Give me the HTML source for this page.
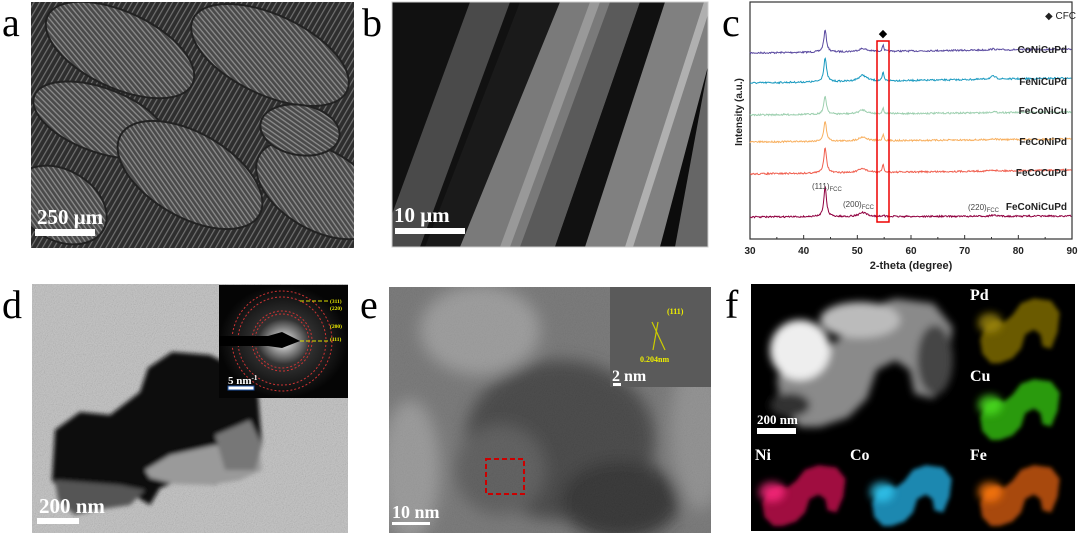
<!DOCTYPE html>
<html><head><meta charset="utf-8"><style>
html,body{margin:0;padding:0;background:#fff;width:1080px;height:536px;overflow:hidden}
svg{display:block}
.lab{font-family:"Liberation Serif",serif;font-size:40px;fill:#000}
.sb{font-family:"Liberation Serif",serif;font-weight:bold;fill:#fff}
.ax{font-family:"Liberation Sans",sans-serif;font-weight:bold;font-size:10px;fill:#222}
</style></head><body>
<svg id="s" width="1080" height="536" viewBox="0 0 1080 536" xmlns="http://www.w3.org/2000/svg">
<defs>
<filter id="grain" x="0" y="0" width="100%" height="100%"><feTurbulence type="fractalNoise" baseFrequency="0.9" numOctaves="2" result="n"/><feColorMatrix type="saturate" values="0"/><feComposite in2="SourceGraphic" operator="in"/><feBlend in="SourceGraphic" mode="multiply"/></filter>
<filter id="blur2"><feGaussianBlur stdDeviation="2"/></filter>
<filter id="blur4"><feGaussianBlur stdDeviation="4"/></filter>
<filter id="blur8"><feGaussianBlur stdDeviation="8"/></filter>
<pattern id="fib" width="4" height="4" patternUnits="userSpaceOnUse" patternTransform="rotate(25)"><rect width="4" height="4" fill="#4a4a4a"/><rect width="4" height="1.3" fill="#8c8c8c"/></pattern>
<pattern id="fib2" width="5" height="5" patternUnits="userSpaceOnUse" patternTransform="rotate(-60)"><rect width="5" height="5" fill="#2e2e2e"/><rect width="5" height="1.2" fill="#707070"/></pattern>
<path id="blob" d="M10 120 L5 90 L20 60 L45 50 L60 55 L80 40 L100 15 L130 5 L170 10 L190 35 L185 75 L170 110 L150 105 L145 80 L130 70 L110 80 L100 110 L80 130 L50 140 L30 140 Z"/>
<radialGradient id="sadp"><stop offset="0" stop-color="#fff"/><stop offset="0.15" stop-color="#aaa"/><stop offset="0.4" stop-color="#333"/><stop offset="1" stop-color="#050505"/></radialGradient>
<clipPath id="ca"><rect x="31" y="2" width="323" height="246"/></clipPath>
<clipPath id="cb"><rect x="392" y="2" width="316" height="245"/></clipPath>
<clipPath id="ce"><rect x="389" y="287" width="322" height="246"/></clipPath>
</defs>

<text class="lab" x="2" y="36">a</text>
<text class="lab" x="362" y="36">b</text>
<text class="lab" x="722" y="36">c</text>
<text class="lab" x="2" y="318">d</text>
<text class="lab" x="360" y="318">e</text>
<text class="lab" x="725" y="318">f</text>

<!-- a -->
<g clip-path="url(#ca)">
<rect x="31" y="2" width="323" height="246" fill="url(#fib2)"/>
<g fill="url(#fib)" stroke="#222" stroke-width="2">
<ellipse cx="120" cy="50" rx="80" ry="38" transform="rotate(25 120 50)"/>
<ellipse cx="270" cy="55" rx="85" ry="40" transform="rotate(25 270 55)"/>
<ellipse cx="100" cy="120" rx="70" ry="32" transform="rotate(20 100 120)"/>
<ellipse cx="190" cy="175" rx="80" ry="42" transform="rotate(30 190 175)"/>
<ellipse cx="320" cy="190" rx="70" ry="40" transform="rotate(30 320 190)"/>
<ellipse cx="60" cy="205" rx="50" ry="35" transform="rotate(30 60 205)"/>
<ellipse cx="300" cy="130" rx="40" ry="25" transform="rotate(10 300 130)"/>
</g>
<rect x="35" y="229" width="60" height="7" fill="#fff"/>
<text class="sb" x="37" y="224" font-size="21">250 μm</text>
</g>

<!-- b -->
<g clip-path="url(#cb)">
<rect x="392" y="2" width="316" height="245" fill="#111"/>
<polygon points="380,247 420,247 510,2 470,2" fill="#4a4a4a"/>
<polygon points="425,247 470,247 560,2 520,2" fill="#1a1a1a"/>
<polygon points="460,247 530,247 620,2 560,2" fill="#7a7a7a"/>
<polygon points="520,247 555,247 640,2 610,2" fill="#5a5a5a"/>
<polygon points="555,247 600,247 675,2 640,2" fill="#111"/>
<polygon points="585,247 660,247 740,2 665,2" fill="#808080"/>
<polygon points="660,247 680,247 745,2 725,2" fill="#0c0c0c"/>
<polygon points="675,247 720,247 760,2 720,2" fill="#666"/>
<polygon points="500,247 510,247 600,2 590,2" fill="#999"/>
<polygon points="625,247 633,247 712,2 704,2" fill="#b0b0b0"/>
<rect x="395" y="228" width="70" height="6" fill="#fff"/>
<text class="sb" x="394" y="222" font-size="21">10 μm</text>
</g>
<rect x="392" y="2" width="316" height="245" fill="none" stroke="#ccc" stroke-width="1"/>

<!-- c -->
<g id="chart">
<rect x="750" y="2" width="322" height="237" fill="#fff" stroke="#333" stroke-width="1.2"/>
<g id="traces"></g>
<rect x="877" y="41" width="12" height="181" fill="none" stroke="#e00" stroke-width="1.5"/>
<text x="883" y="37" font-size="11" text-anchor="middle" fill="#000">◆</text>
<text x="1045" y="19" font-size="10" font-family="Liberation Sans,sans-serif" fill="#222">◆ CFC</text>
<g class="ax" text-anchor="end">
<text x="1067" y="53">CoNiCuPd</text>
<text x="1067" y="85">FeNiCuPd</text>
<text x="1067" y="114">FeCoNiCu</text>
<text x="1067" y="145">FeCoNiPd</text>
<text x="1067" y="176">FeCoCuPd</text>
<text x="1067" y="210">FeCoNiCuPd</text>
</g>
<g font-family="Liberation Sans,sans-serif" font-size="8" fill="#444">
<text x="812" y="189">(111)<tspan font-size="6" dy="2">FCC</tspan></text>
<text x="843" y="207">(200)<tspan font-size="6" dy="2">FCC</tspan></text>
<text x="968" y="210">(220)<tspan font-size="6" dy="2">FCC</tspan></text>
</g>
<g id="ticks" stroke="#333" stroke-width="1"></g>
<g class="ax" text-anchor="middle" font-size="11">
<text x="750" y="254">30</text><text x="803.7" y="254">40</text><text x="857.3" y="254">50</text><text x="911" y="254">60</text><text x="964.7" y="254">70</text><text x="1018.3" y="254">80</text><text x="1072" y="254">90</text>
<text x="911" y="269" font-size="11">2-theta (degree)</text>
</g>
<text class="ax" font-size="15" text-anchor="middle" transform="translate(742 112) rotate(-90)">Intensity (a.u.)</text>
</g>

<!-- d -->
<rect x="32" y="284" width="316" height="249" fill="#c9c9c9"/>
<rect x="32" y="284" width="316" height="249" fill="#c9c9c9" filter="url(#grain)" opacity="0.5"/>
<g filter="url(#blur2)">
<path d="M55 430 L80 412 L110 415 L140 392 L148 368 L172 352 L210 355 L240 370 L258 395 L262 445 L245 465 L215 485 L180 480 L160 488 L150 505 L125 490 L90 500 L70 505 L52 480 Z" fill="#111"/>
<path d="M145 470 L170 455 L215 445 L240 448 L258 440 L262 470 L240 480 L210 485 L175 484 L150 478 Z" fill="#9a9a9a"/>
<path d="M55 480 L120 485 L145 490 L130 505 L95 510 L75 515 L58 500 Z" fill="#555"/>
<path d="M215 435 L250 420 L262 445 L255 470 L225 470 Z" fill="#777"/>
</g>
<rect x="219" y="285" width="129" height="113" fill="url(#sadp)"/>
<g fill="none" stroke="#c33" stroke-dasharray="2 2" stroke-width="1">
<circle cx="282" cy="341" r="27"/><circle cx="282" cy="341" r="30"/><circle cx="282" cy="341" r="44"/><circle cx="282" cy="341" r="50"/>
</g>
<polygon points="219,336 268,336 282,332 300,341 282,348 268,346 219,346" fill="#000"/>
<g stroke="#dd0" stroke-width="1" stroke-dasharray="4 2"><line x1="300" y1="301" x2="328" y2="301"/><line x1="300" y1="341" x2="328" y2="341"/></g>
<g font-family="Liberation Serif,serif" font-size="5.5" font-weight="bold" fill="#ee0">
<text x="330" y="303">(311)</text><text x="330" y="310">(220)</text><text x="330" y="328">(200)</text><text x="330" y="341">(111)</text></g>
<text class="sb" x="228" y="384" font-size="11">5 nm<tspan font-size="7" dy="-4">-1</tspan></text>
<rect x="228" y="386" width="26" height="4" fill="#fff" stroke="#1a4fa0" stroke-width="1"/>
<text class="sb" x="39" y="513" font-size="21">200 nm</text>
<rect x="37" y="518" width="42" height="6" fill="#fff"/>

<!-- e -->
<g clip-path="url(#ce)">
<rect x="389" y="287" width="322" height="246" fill="#7a7a7a"/>
<g filter="url(#blur8)">
<ellipse cx="480" cy="330" rx="60" ry="45" fill="#a8a8a8"/>
<ellipse cx="410" cy="470" rx="30" ry="70" fill="#a5a5a5"/>
<ellipse cx="700" cy="430" rx="30" ry="80" fill="#9a9a9a"/>
<ellipse cx="560" cy="440" rx="95" ry="80" fill="#3c3c3c"/>
<ellipse cx="620" cy="500" rx="60" ry="40" fill="#262626"/>
<ellipse cx="500" cy="470" rx="45" ry="45" fill="#5a5a5a"/>
</g>
<rect x="389" y="287" width="322" height="246" fill="#888" filter="url(#grain)" opacity="0.25"/>
<rect x="610" y="287" width="101" height="100" fill="#5a5a5a"/>
<g stroke="#cc0" stroke-width="1.2"><line x1="652" y1="322" x2="665" y2="350"/><line x1="658" y1="322" x2="653" y2="350"/></g>
<text x="667" y="314" font-family="Liberation Serif,serif" font-size="8" font-weight="bold" fill="#ee0">(111)</text>
<text x="640" y="362" font-family="Liberation Serif,serif" font-size="8" font-weight="bold" fill="#ee0">0.204nm</text>
<text class="sb" x="612" y="381" font-size="16">2 nm</text>
<rect x="613" y="383" width="8" height="3" fill="#fff"/>
<rect x="486" y="459" width="38" height="35" fill="none" stroke="#c00" stroke-width="2" stroke-dasharray="5 3"/>
<text class="sb" x="392" y="518" font-size="18">10 nm</text>
<rect x="392" y="522" width="38" height="3" fill="#fff"/>
</g>

<!-- f -->
<rect x="751" y="284" width="324" height="247" fill="#000"/>
<g filter="url(#blur4)">
<use href="#blob" fill="#8a8a8a" transform="translate(772 294) scale(0.95)"/>
<ellipse cx="800" cy="350" rx="30" ry="30" fill="#eee"/>
<ellipse cx="790" cy="405" rx="20" ry="12" fill="#333"/>
<ellipse cx="860" cy="320" rx="40" ry="18" fill="#bbb"/>
<ellipse cx="935" cy="360" rx="18" ry="35" fill="#444"/>
</g>
<text class="sb" x="757" y="424" font-size="13">200 nm</text>
<rect x="757" y="428" width="39" height="6" fill="#fff"/>
<g font-family="Liberation Serif,serif" font-weight="bold" font-size="16" fill="#fff">
<text x="970" y="300">Pd</text><text x="970" y="381">Cu</text>
<text x="755" y="460">Ni</text><text x="850" y="460">Co</text><text x="970" y="460">Fe</text></g>
<g filter="url(#blur2)">
<use href="#blob" fill="#6a5a00" transform="translate(978 296) scale(0.43 0.48)"/>
<use href="#blob" fill="#2a9a10" transform="translate(978 377) scale(0.43 0.45)"/>
<use href="#blob" fill="#a01040" transform="translate(760 463) scale(0.45 0.45)"/>
<use href="#blob" fill="#1a88b0" transform="translate(870 463) scale(0.43 0.45)"/>
<use href="#blob" fill="#a84a10" transform="translate(978 463) scale(0.43 0.45)"/>
</g>
<g filter="url(#blur4)" opacity="0.8">
<ellipse cx="990" cy="323" rx="12" ry="10" fill="#a08a10"/>
<ellipse cx="990" cy="405" rx="12" ry="10" fill="#4ee020"/>
<ellipse cx="772" cy="492" rx="13" ry="10" fill="#ff2a80"/>
<ellipse cx="882" cy="492" rx="12" ry="10" fill="#30c8f0"/>
<ellipse cx="990" cy="492" rx="12" ry="10" fill="#ff7a10"/>
</g>
</svg>
<script>
(function(){
var NS="http://www.w3.org/2000/svg";
function X(t){return 750+(t-30)*322/60;}
var seed=7;function rnd(){seed=(seed*16807)%2147483647;return seed/2147483647;}
var tr=[["#5a4aa0",53,22,3,7,1,-4],["#1a9ac0",83,24,6,9,3,-5],["#9ed0b0",115,18,4,6,1,-3],["#f8b060",142,20,4,7,1,-3],["#f06050",174,26,4,8,1,-4],["#900040",217,30,4,2,1,-1]];
var g=document.getElementById("traces");
tr.forEach(function(o){var d="";for(var t=30;t<=90;t+=0.12){
var y=o[1]+o[6]*(t-30)/60;
y-=o[2]/(1+Math.pow((t-44)/0.3,2));
y-=o[3]/(1+Math.pow((t-51)/0.9,2));
y-=o[4]/(1+Math.pow((t-54.8)/0.15,2));
y-=o[5]/(1+Math.pow((t-75.3)/0.6,2));
y+=(rnd()-0.5)*1.6;
d+=(d?"L":"M")+X(t).toFixed(1)+" "+y.toFixed(1);}
var p=document.createElementNS(NS,"path");p.setAttribute("d",d);p.setAttribute("fill","none");p.setAttribute("stroke",o[0]);p.setAttribute("stroke-width","1");g.appendChild(p);});
var tk=document.getElementById("ticks");
for(var t=30;t<=90;t+=5){var l=document.createElementNS(NS,"line");l.setAttribute("x1",X(t));l.setAttribute("x2",X(t));l.setAttribute("y1",239);l.setAttribute("y2",t%10==0?235:237);tk.appendChild(l);}
})();
</script>
</body></html>
